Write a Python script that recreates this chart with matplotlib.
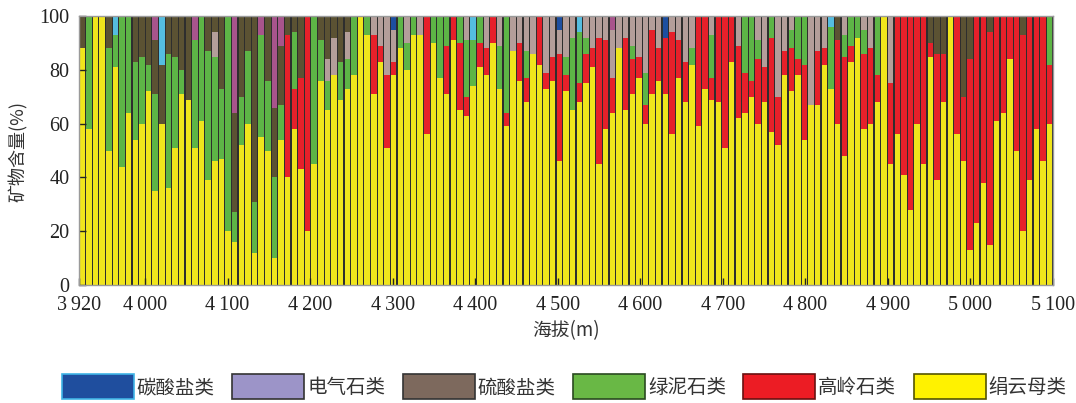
import matplotlib
matplotlib.use("Agg")
import matplotlib.pyplot as plt
from matplotlib.patches import Patch
import numpy as np

plt.rcParams['font.family'] = ['Noto Sans CJK SC', 'DejaVu Sans']

# --- data: mineral content (%) of each sample, ordered by elevation ---------
# layers stacked bottom -> top
sericite = [88, 58, 100, 100, 50, 81, 44, 64, 54, 60, 72, 35, 60, 36, 51, 71, 69, 51, 61, 39,
            46, 47, 20, 16, 52, 60, 12, 55, 50, 10, 54, 40, 58, 43, 20, 45, 76, 65, 78, 69,
            73, 78, 100, 93, 71, 83, 51, 78, 88, 80, 93, 93, 56, 90, 77, 71, 91, 65, 63, 74,
            81, 78, 90, 73, 59, 87, 76, 68, 86, 82, 73, 76, 46, 72, 65, 68, 75, 81, 45, 58,
            64, 88, 65, 71, 77, 60, 71, 76, 71, 56, 77, 68, 82, 59, 73, 69, 68, 51, 83, 62,
            64, 70, 60, 68, 57, 52, 78, 72, 78, 54, 67, 67, 82, 73, 60, 48, 83, 92, 58, 60,
            68, 100, 45, 56, 41, 28, 60, 45, 85, 39, 68, 100, 56, 46, 13, 23, 38, 15, 61, 64,
            84, 50, 20, 39, 58, 46, 60]
kaolinite = [0, 0, 0, 0, 0, 0, 0, 0, 0, 0, 0, 0, 0, 0, 0, 0, 0, 0, 0, 0,
             0, 0, 0, 0, 0, 0, 0, 0, 0, 0, 0, 53, 15, 34, 80, 0, 0, 0, 0, 0,
             0, 0, 0, 0, 22, 6, 27, 5, 0, 0, 0, 0, 44, 0, 0, 18, 9, 25, 7, 0,
             9, 10, 10, 0, 5, 0, 14, 9, 0, 18, 6, 9, 40, 6, 0, 7, 11, 7, 47, 33,
             13, 0, 27, 13, 8, 7, 24, 12, 21, 38, 14, 15, 0, 41, 27, 8, 32, 49, 17, 27,
             15, 6, 24, 13, 35, 18, 9, 16, 6, 28, 0, 20, 6, 0, 31, 37, 6, 0, 28, 28,
             10, 0, 30, 44, 59, 72, 40, 55, 5, 47, 18, 0, 44, 24, 71, 77, 62, 79, 39, 36,
             16, 50, 73, 61, 42, 54, 22]
chlorite = [0, 42, 0, 0, 38, 12, 56, 36, 29, 25, 10, 36, 0, 50, 34, 9, 0, 40, 39, 48,
            39, 26, 80, 11, 18, 27, 19, 38, 26, 30, 13, 0, 21, 0, 0, 55, 15, 11, 0, 14,
            11, 22, 0, 7, 0, 0, 0, 0, 12, 10, 7, 0, 0, 10, 23, 11, 0, 10, 21, 17,
            10, 0, 0, 16, 36, 0, 0, 10, 0, 0, 0, 0, 0, 7, 27, 19, 6, 0, 0, 0,
            0, 0, 0, 5, 0, 12, 0, 0, 0, 0, 0, 0, 6, 0, 0, 16, 0, 0, 0, 0,
            21, 24, 7, 0, 8, 0, 0, 7, 16, 18, 0, 0, 0, 23, 0, 8, 11, 8, 9, 0,
            22, 0, 0, 0, 0, 0, 0, 0, 0, 0, 0, 0, 0, 0, 0, 0, 0, 0, 0, 0,
            0, 0, 0, 0, 0, 0, 18]
tourmaline_grey = [0, 0, 0, 0, 0, 0, 0, 0, 0, 0, 0, 0, 0, 0, 0, 0, 0, 0, 0, 0,
                   9, 0, 0, 0, 0, 0, 0, 0, 0, 0, 0, 0, 0, 0, 0, 0, 0, 8, 14, 0,
                   10, 0, 0, 0, 7, 11, 22, 12, 0, 10, 0, 7, 0, 0, 0, 0, 0, 0, 9, 0,
                   0, 12, 0, 11, 0, 13, 10, 13, 14, 0, 21, 15, 9, 15, 8, 0, 8, 12, 8, 9,
                   18, 12, 8, 11, 15, 21, 5, 12, 0, 6, 9, 17, 12, 0, 0, 7, 0, 0, 0, 11,
                   0, 0, 9, 19, 0, 30, 13, 5, 0, 0, 33, 13, 12, 0, 0, 7, 0, 0, 5, 12,
                   0, 0, 25, 0, 0, 0, 0, 0, 0, 0, 0, 0, 0, 0, 0, 0, 0, 0, 0, 0,
                   0, 0, 0, 0, 0, 0, 0]
sulfate = [12, 0, 0, 0, 12, 0, 0, 0, 17, 15, 18, 20, 22, 14, 15, 20, 31, 0, 0, 13,
           6, 27, 0, 37, 30, 13, 69, 0, 24, 26, 22, 7, 6, 23, 0, 0, 9, 16, 8, 17,
           6, 0, 0, 0, 0, 0, 0, 0, 0, 0, 0, 0, 0, 0, 0, 0, 0, 0, 0, 0,
           0, 0, 0, 0, 0, 0, 0, 0, 0, 0, 0, 0, 0, 0, 0, 0, 0, 0, 0, 0,
           0, 0, 0, 0, 0, 0, 0, 0, 0, 0, 0, 0, 0, 0, 0, 0, 0, 0, 0, 0,
           0, 0, 0, 0, 0, 0, 0, 0, 0, 0, 0, 0, 0, 0, 9, 0, 0, 0, 0, 0,
           0, 0, 0, 0, 0, 0, 0, 0, 10, 14, 14, 0, 0, 30, 16, 0, 0, 6, 0, 0,
           0, 0, 7, 0, 0, 0, 0]
tourmaline_pink = [0, 0, 0, 0, 0, 0, 0, 0, 0, 0, 0, 9, 0, 0, 0, 0, 0, 9, 0, 0,
                   0, 0, 0, 36, 0, 0, 0, 7, 0, 34, 11, 0, 0, 0, 0, 0, 0, 0, 0, 0,
                   0, 0, 0, 0, 0, 0, 0, 0, 0, 0, 0, 0, 0, 0, 0, 0, 0, 0, 0, 0,
                   0, 0, 0, 0, 0, 0, 0, 0, 0, 0, 0, 0, 0, 0, 0, 0, 0, 0, 0, 0,
                   5, 0, 0, 0, 0, 0, 0, 0, 0, 0, 0, 0, 0, 0, 0, 0, 0, 0, 0, 0,
                   0, 0, 0, 0, 0, 0, 0, 0, 0, 0, 0, 0, 0, 0, 0, 0, 0, 0, 0, 0,
                   0, 0, 0, 0, 0, 0, 0, 0, 0, 0, 0, 0, 0, 0, 0, 0, 0, 0, 0, 0,
                   0, 0, 0, 0, 0, 0, 0]
carbonate_light = [0, 0, 0, 0, 0, 7, 0, 0, 0, 0, 0, 0, 18, 0, 0, 0, 0, 0, 0, 0,
                   0, 0, 0, 0, 0, 0, 0, 0, 0, 0, 0, 0, 0, 0, 0, 0, 0, 0, 0, 0,
                   0, 0, 0, 0, 0, 0, 0, 0, 0, 0, 0, 0, 0, 0, 0, 0, 0, 0, 0, 9,
                   0, 0, 0, 0, 0, 0, 0, 0, 0, 0, 0, 0, 0, 0, 0, 6, 0, 0, 0, 0,
                   0, 0, 0, 0, 0, 0, 0, 0, 0, 0, 0, 0, 0, 0, 0, 0, 0, 0, 0, 0,
                   0, 0, 0, 0, 0, 0, 0, 0, 0, 0, 0, 0, 0, 4, 0, 0, 0, 0, 0, 0,
                   0, 0, 0, 0, 0, 0, 0, 0, 0, 0, 0, 0, 0, 0, 0, 0, 0, 0, 0, 0,
                   0, 0, 0, 0, 0, 0, 0]
carbonate_dark = [0, 0, 0, 0, 0, 0, 0, 0, 0, 0, 0, 0, 0, 0, 0, 0, 0, 0, 0, 0,
                  0, 0, 0, 0, 0, 0, 0, 0, 0, 0, 0, 0, 0, 0, 0, 0, 0, 0, 0, 0,
                  0, 0, 0, 0, 0, 0, 0, 5, 0, 0, 0, 0, 0, 0, 0, 0, 0, 0, 0, 0,
                  0, 0, 0, 0, 0, 0, 0, 0, 0, 0, 0, 0, 5, 0, 0, 0, 0, 0, 0, 0,
                  0, 0, 0, 0, 0, 0, 0, 0, 8, 0, 0, 0, 0, 0, 0, 0, 0, 0, 0, 0,
                  0, 0, 0, 0, 0, 0, 0, 0, 0, 0, 0, 0, 0, 0, 0, 0, 0, 0, 0, 0,
                  0, 0, 0, 0, 0, 0, 0, 0, 0, 0, 0, 0, 0, 0, 0, 0, 0, 0, 0, 0,
                  0, 0, 0, 0, 0, 0, 0]

x_ticks = [3920, 4000, 4100, 4200, 4300, 4400, 4500, 4600, 4700, 4800, 4900, 5000, 5100]
x_ticklabels = ["3\u2009920", "4\u2009000", "4\u2009100", "4\u2009200", "4\u2009300", "4\u2009400",
                "4\u2009500", "4\u2009600", "4\u2009700", "4\u2009800", "4\u2009900",
                "5\u2009000", "5\u2009100"]

legend_names = ["碳酸盐类", "电气石类", "硫酸盐类", "绿泥石类", "高岭石类", "绢云母类"]

# --- plotting ---------------------------------------------------------------
layers = [
    (sericite, "#f0e51c"),
    (kaolinite, "#e6202a"),
    (chlorite, "#5db546"),
    (tourmaline_grey, "#b49e9a"),
    (sulfate, "#5b5233"),
    (tourmaline_pink, "#a8548c"),
    (carbonate_light, "#55bde0"),
    (carbonate_dark, "#1d4fa0"),
]

n = len(sericite)
x_min, x_max = 3920, 5100
step = (x_max - x_min) / n
xs = x_min + (np.arange(n) + 0.5) * step

fig = plt.figure(figsize=(10.76, 4.03), dpi=100)
ax = fig.add_axes([0.0734, 0.2928, 0.9052, 0.667])
ax.set_facecolor("#2e2e2e")

bottom = np.zeros(n)
for vals, col in layers:
    vals = np.array(vals, dtype=float)
    ax.bar(xs, vals, width=step * 0.82, bottom=bottom, color=col, linewidth=0)
    bottom += vals

ax.set_xlim(x_min, x_max)
ax.set_ylim(0, 100)
ax.set_yticks([0, 20, 40, 60, 80, 100])

num_font = dict(family=["Liberation Serif", "DejaVu Serif"], size=14.5)
ax.set_xticks(x_ticks)
ax.set_xticklabels(x_ticklabels, fontdict=num_font)
ax.set_yticklabels([str(v) for v in [0, 20, 40, 60, 80, 100]], fontdict=num_font)
ax.tick_params(axis="both", direction="in", length=5, width=1, colors="#222222")
ax.tick_params(axis="y", pad=7)
ax.tick_params(axis="x", pad=8)
for sp in ax.spines.values():
    sp.set_color("#9a9a9a")
    sp.set_linewidth(1.0)

# axis titles
fig.text(18 / 1076, 1 - 152 / 403, "矿物含量(%)", rotation=90, fontsize=13,
         ha="center", va="center", color="#333333")
fig.text(566 / 1076, 1 - 331 / 403, "海拔(m)", fontsize=13.5,
         ha="center", va="center", color="#333333")

legend_faces = ["#1f4e9e", "#9c94c8", "#7d695d", "#69b845", "#ec1c24", "#fff200"]
legend_edges = ["#3fb4e6", "#333333", "#333333", "#2a4a20", "#6a1010", "#555500"]
handles = [Patch(facecolor=f, edgecolor=e, linewidth=1.2) for f, e in zip(legend_faces, legend_edges)]
leg = fig.legend(handles, legend_names, loc="center", bbox_to_anchor=(0.5245, 0.04), ncol=6,
                 frameon=False, fontsize=14, handlelength=3.7, handleheight=1.6,
                 handletextpad=0.15, columnspacing=0.9, borderpad=0)
for t in leg.get_texts():
    t.set_color("#333333")

fig.savefig("out.png", dpi=100)
